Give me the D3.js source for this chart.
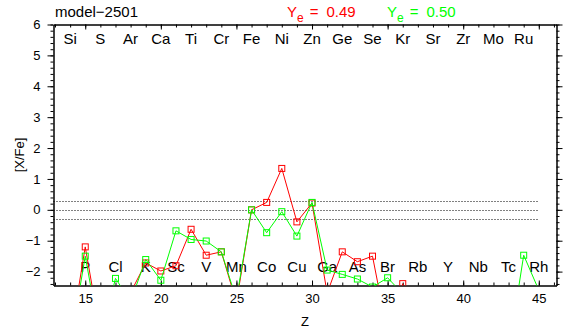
<!DOCTYPE html>
<html>
<head>
<meta charset="utf-8">
<script src="https://cdn.jsdelivr.net/npm/d3@7"></script>
<style>
  html, body { margin: 0; padding: 0; background: #fff; }
  svg { display: block; font-family: "Liberation Sans", Arial, Helvetica, sans-serif; }
</style>
</head>
<body>
<svg id="chart" width="579" height="332"></svg>
<script>
// Atomic numbers plotted for each model
const atomicNumbers = d3.range(14, 46);

// [X/Fe] for the two electron fractions
const abundRed = [
  -4.2, -1.20, -4.0, -3.6, -2.68, -1.72, -1.98, -1.81, -0.63, -1.47,
  -1.36, -3.0, 0.0, 0.24, 1.34, -0.39, 0.22, -2.7, -1.36, -1.68,
  -1.50, -4.0, -2.39, -4.5, -4.2, -4.8, -4.4, -5.0, -4.6, -5.2,
  -4.4, -5.0
];
const abundGreen = [
  -4.4, -1.50, -4.2, -2.22, -2.96, -1.61, -2.28, -0.68, -0.96, -1.01,
  -1.36, -2.9, 0.0, -0.74, -0.06, -0.85, 0.24, -1.95, -2.09, -2.24,
  -2.50, -2.20, -2.72, -4.0, -4.5, -4.2, -4.8, -4.4, -5.0, -4.6,
  -1.47, -2.6
];

// Element symbols: even Z along the top, odd Z along the bottom
const evenElements = ["Si","S","Ar","Ca","Ti","Cr","Fe","Ni","Zn","Ge","Se","Kr","Sr","Zr","Mo","Ru"];
const oddElements  = ["P","Cl","K","Sc","V","Mn","Co","Cu","Ga","As","Br","Rb","Y","Nb","Tc","Rh"];

// Axis ticks
const xMajorTicks = [15, 20, 25, 30, 35, 40, 45];
const xMinorTicks = d3.range(13, 47);
const yMajorTicks = [-2, -1, 0, 1, 2, 3, 4, 5, 6];
const yMinorTicks = d3.range(-24, 61, 2).map(v => v / 10);
const refLevels = [0.3, 0, -0.3];

const svg = d3.select("#chart");
const L = 53.5, R = 556.5, T = 24.5, B = 285.5;

const x = d3.scaleLinear().domain([12.9, 46.17]).range([L, R]);
const y = d3.scaleLinear().domain([-2.45, 6]).range([B, T]);

const minus = s => String(s).replace("-", "\u2212");

// Minor ticks (drawn first, majors on top)
svg.append("g").attr("transform", `translate(0,${B})`)
  .call(d3.axisBottom(x).tickValues(xMinorTicks).tickSize(-3).tickSizeOuter(0).tickFormat(""));
svg.append("g").attr("transform", `translate(0,${T})`)
  .call(d3.axisTop(x).tickValues(xMinorTicks).tickSize(-3).tickSizeOuter(0).tickFormat(""));
svg.append("g").attr("transform", `translate(${L},0)`)
  .call(d3.axisLeft(y).tickValues(yMinorTicks).tickSize(3).tickSizeOuter(0).tickFormat(""));
svg.append("g").attr("transform", `translate(${R},0)`)
  .call(d3.axisRight(y).tickValues(yMinorTicks).tickSize(3).tickSizeOuter(0).tickFormat(""));

// Major ticks and labels
svg.append("g").attr("class", "xaxis").attr("transform", `translate(0,${B})`)
  .call(d3.axisBottom(x).tickValues(xMajorTicks).tickSize(-5).tickSizeOuter(0).tickPadding(8));
svg.append("g").attr("transform", `translate(0,${T})`)
  .call(d3.axisTop(x).tickValues(xMajorTicks).tickSize(-5).tickSizeOuter(0).tickFormat(""));
svg.append("g").attr("class", "yaxis").attr("transform", `translate(${L},0)`)
  .call(d3.axisLeft(y).tickValues(yMajorTicks).tickSize(6).tickSizeOuter(0).tickPadding(7).tickFormat(minus));
svg.append("g").attr("transform", `translate(${R},0)`)
  .call(d3.axisRight(y).tickValues(yMajorTicks).tickSize(6).tickSizeOuter(0).tickFormat(""));

svg.selectAll(".domain, .tick line").attr("stroke", "#000").attr("stroke-width", 1);
svg.selectAll(".xaxis text, .yaxis text")
  .attr("font-size", 13).attr("fill", "#000")
  .attr("font-family", "Liberation Sans, Arial, sans-serif");

// Clip for data
svg.append("clipPath").attr("id", "plotclip")
  .append("rect").attr("x", L).attr("y", T).attr("width", R - L).attr("height", B - T);

// Reference levels
svg.append("g").selectAll("line").data(refLevels).join("line")
  .attr("x1", L).attr("x2", x(45))
  .attr("y1", d => Math.round(y(d)) + 0.5).attr("y2", d => Math.round(y(d)) + 0.5)
  .attr("stroke", "#000").attr("stroke-width", 1).attr("stroke-dasharray", "1,2");

// Element symbols
svg.append("g").selectAll("text").data(evenElements).join("text")
  .attr("x", (d, i) => x(14 + 2 * i)).attr("y", 44)
  .attr("text-anchor", "middle").attr("font-size", 15).attr("fill", "#000")
  .text(d => d);
svg.append("g").selectAll("text").data(oddElements).join("text")
  .attr("x", (d, i) => x(15 + 2 * i)).attr("y", 272)
  .attr("text-anchor", "middle").attr("font-size", 15).attr("fill", "#000")
  .text(d => d);

// Series
const series = [
  { values: abundRed, color: "#ff0000" },
  { values: abundGreen, color: "#00ff00" }
];
const line = d3.line().x(d => x(d[0])).y(d => y(d[1]));
const dataG = svg.append("g").attr("clip-path", "url(#plotclip)");
series.forEach(s => {
  const pts = atomicNumbers.map((z, i) => [z, s.values[i]]);
  dataG.append("path").datum(pts)
    .attr("d", line).attr("fill", "none")
    .attr("stroke", s.color).attr("stroke-width", 1);
  dataG.append("g").selectAll("rect").data(pts).join("rect")
    .attr("x", d => x(d[0]) - 3).attr("y", d => y(d[1]) - 3)
    .attr("width", 6).attr("height", 6)
    .attr("fill", "none").attr("stroke", s.color).attr("stroke-width", 1);
});

// Titles
svg.append("text").attr("x", 55).attr("y", 17).attr("font-size", 15).attr("fill", "#000")
  .text("model\u22122501");

function yeLabel(x0, value, color) {
  const t = svg.append("text").attr("x", x0).attr("y", 17).attr("font-size", 15).attr("fill", color);
  t.append("tspan").text("Y");
  t.append("tspan").attr("dy", 5).attr("font-size", 12).text("e");
  t.append("tspan").attr("dy", -5).attr("dx", 6).text("=");
  t.append("tspan").attr("dx", 8).text(value);
}
yeLabel(287, "0.49", "#ff0000");
yeLabel(387, "0.50", "#00ff00");

svg.append("text").attr("x", (L + R) / 2).attr("y", 326).attr("text-anchor", "middle")
  .attr("font-size", 13).attr("fill", "#000").text("Z");
svg.append("text").attr("transform", `translate(24,${(T + B) / 2}) rotate(-90)`)
  .attr("text-anchor", "middle").attr("font-size", 13).attr("fill", "#000").text("[X/Fe]");
</script>
</body>
</html>
